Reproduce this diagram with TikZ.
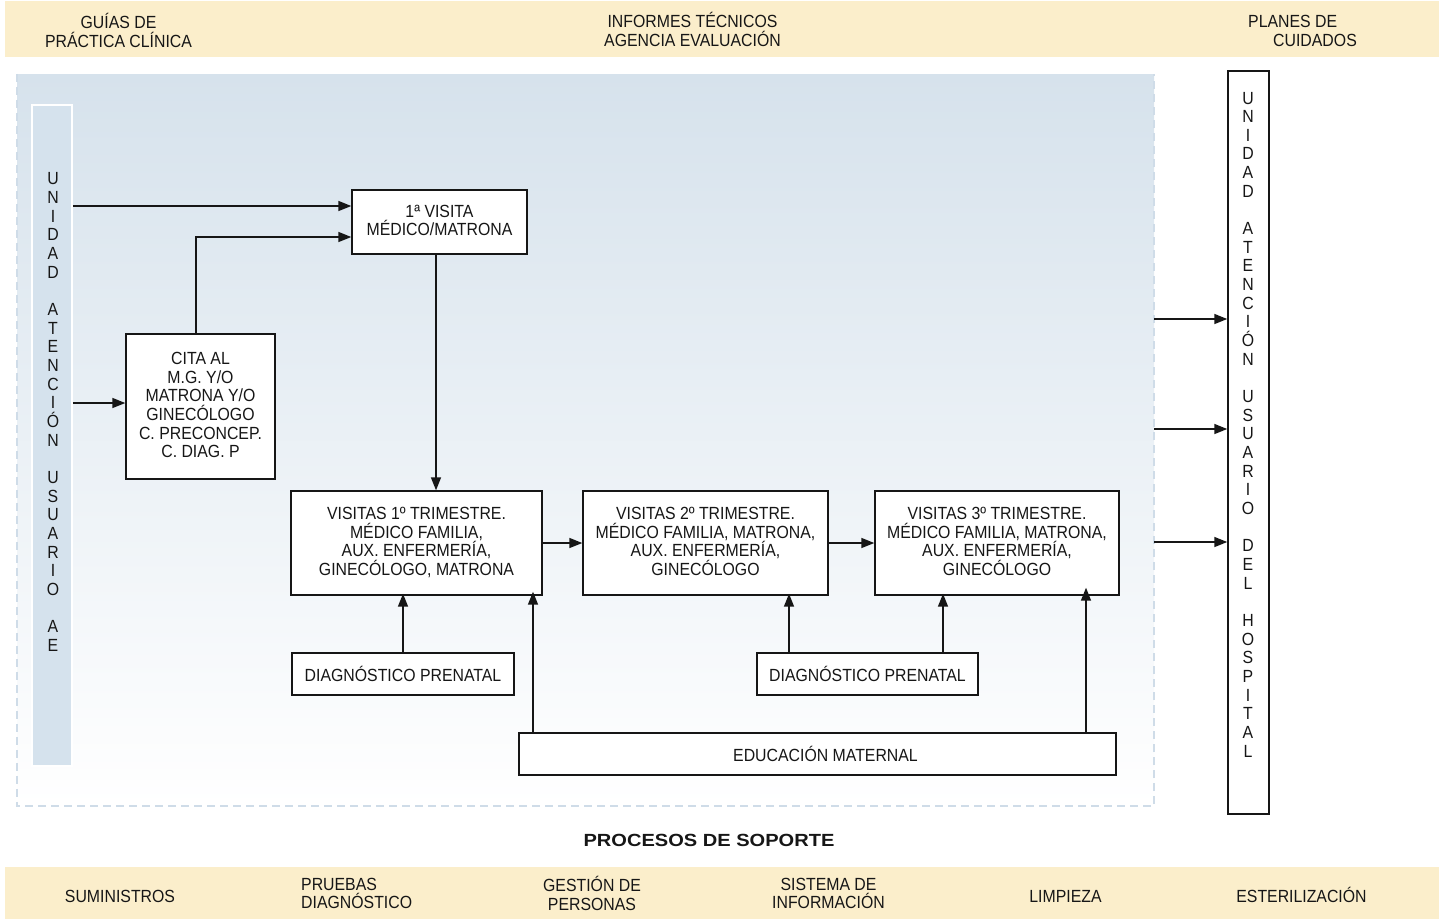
\documentclass[tikz,border=0pt]{standalone}
\usepackage{fontspec}
\setmainfont{Liberation Sans}[FakeStretch=0.9]
\newfontfamily\titlefont{Liberation Sans Bold}[FakeStretch=1.14]
\usetikzlibrary{arrows.meta}
\definecolor{cream}{HTML}{FBEECB}
\definecolor{bluetop}{HTML}{D6E2EC}
\definecolor{barblue}{HTML}{D5E2ED}
\definecolor{dashblue}{HTML}{CFDCE8}
\definecolor{ink}{HTML}{161616}
\tikzset{
  txt/.style={font=\fontsize{17.6}{18.66}\selectfont, text=ink, align=center, inner sep=0pt,
    execute at begin node=\rule{0pt}{18pt}, execute at end node=\rule[-3pt]{0pt}{3pt}},
  box/.style={txt, draw=ink, line width=1.4pt, fill=white},
  arr/.style={draw=ink, line width=1.5pt, -{Triangle[length=13pt,width=10pt]}},
  band/.style={fill=cream, inner sep=0pt},
}
\begin{document}
\begin{tikzpicture}[x=1pt,y=-1pt]
\useasboundingbox (0,0) rectangle (1439,919);
\fill[white] (0,0) rectangle (1439,919);
% bands
\node[band, minimum width=1434, minimum height=56] (topband) at (722,29) {};
\node[band, minimum width=1434, minimum height=52] (botband) at (722,893) {};
% main region
\node[top color=bluetop, bottom color=white,
  minimum width=1137, minimum height=732, inner sep=0pt] (main) at (585.5,440) {};
\draw[dashblue, line width=1.5pt, dash pattern=on 8pt off 5pt]
  (main.north west) -- (main.south west) -- (main.south east) -- (main.north east);
% side bars
\node[fill=barblue, draw=white, line width=1.5pt, minimum width=40, minimum height=661, inner sep=0pt] (lbar) at (52,435.5) {};
\node[fill=white, draw=ink, line width=1.5pt, minimum width=41, minimum height=743, inner sep=0pt] (rbar) at (1248.5,442.5) {};
\node[txt] (ltext) at (53,413.6) {U\\N\\I\\D\\A\\D\\~\\A\\T\\E\\N\\C\\I\\Ó\\N\\~\\U\\S\\U\\A\\R\\I\\O\\~\\A\\E};
\node[txt] (rtext) at (1248,426) {U\\N\\I\\D\\A\\D\\~\\A\\T\\E\\N\\C\\I\\Ó\\N\\~\\U\\S\\U\\A\\R\\I\\O\\~\\D\\E\\L\\~\\H\\O\\S\\P\\I\\T\\A\\L};
% top band texts
\node[txt] (guias) at (118.5,32) {GUÍAS DE\\PRÁCTICA CLÍNICA};
\node[txt] (informes) at (692.5,31) {INFORMES TÉCNICOS\\AGENCIA EVALUACIÓN};
\node[txt, align=left, anchor=west] (planes) at (1248,32.5) {PLANES DE\\\hspace*{25pt}CUIDADOS};
% boxes
\node[box, minimum width=175, minimum height=64] (v0) at (439.5,222) {1ª VISITA\\MÉDICO/MATRONA};
\node[box, minimum width=149, minimum height=145] (cita) at (200.5,406.5) {CITA AL\\M.G. Y/O\\MATRONA Y/O\\GINECÓLOGO\\C. PRECONCEP.\\C. DIAG. P};
\node[box, minimum width=251, minimum height=104] (v1) at (416.5,543) {VISITAS 1º TRIMESTRE.\\MÉDICO FAMILIA,\\AUX. ENFERMERÍA,\\GINECÓLOGO, MATRONA};
\node[box, minimum width=245, minimum height=104] (v2) at (705.5,543) {VISITAS 2º TRIMESTRE.\\MÉDICO FAMILIA, MATRONA,\\AUX. ENFERMERÍA,\\GINECÓLOGO};
\node[box, minimum width=244, minimum height=104] (v3) at (997,543) {VISITAS 3º TRIMESTRE.\\MÉDICO FAMILIA, MATRONA,\\AUX. ENFERMERÍA,\\GINECÓLOGO};
\node[box, minimum width=222, minimum height=42] (dp1) at (403,674) {DIAGNÓSTICO PRENATAL};
\node[box, minimum width=221, minimum height=42] (dp2) at (867.5,674) {DIAGNÓSTICO PRENATAL};
\node[box, minimum width=597, minimum height=42] (edu) at (817.5,754) {\hspace{16pt}EDUCACIÓN MATERNAL};
% arrows
\draw[arr] (lbar.east |- 0,206) -- (v0.west |- 0,206);
\draw[arr] (cita.north -| 196,0) |- (v0.west |- 0,237);
\draw[arr] (lbar.east |- 0,403) -- (cita.west |- 0,403);
\draw[arr] (v0.south -| 436,0) -- (v1.north -| 436,0);
\draw[arr] (v1.east) -- (v2.west);
\draw[arr] (v2.east) -- (v3.west);
\draw[arr, shorten >=-2pt] (dp1.north) -- (dp1.north |- v1.south);
\draw[arr, shorten >=-4pt] (edu.north -| 533,0) -- (v1.south -| 533,0);
\draw[arr, shorten >=-2pt] (dp2.north -| 789,0) -- (v2.south -| 789,0);
\draw[arr, shorten >=-2pt] (dp2.north -| 943,0) -- (v3.south -| 943,0);
\draw[arr, shorten >=-8pt] (edu.north -| 1086,0) -- (v3.south -| 1086,0);
\draw[arr] (main.east |- 0,319) -- (rbar.west |- 0,319);
\draw[arr] (main.east |- 0,429) -- (rbar.west |- 0,429);
\draw[arr] (main.east |- 0,542) -- (rbar.west |- 0,542);
% support
\node[txt, font={\titlefont\fontsize{17.6}{18.66}\selectfont}] (soporte) at (709,839) {PROCESOS DE SOPORTE};
\node[txt] (s1) at (120,895) {SUMINISTROS};
\node[txt, align=left, anchor=west] (s2) at (301,895) {PRUEBAS\\DIAGNÓSTICO};
\node[txt] (s3) at (592,895) {GESTIÓN DE\\PERSONAS};
\node[txt] (s4) at (828.5,895) {SISTEMA DE\\INFORMACIÓN};
\node[txt] (s5) at (1065.5,895) {LIMPIEZA};
\node[txt] (s6) at (1301.5,895) {ESTERILIZACIÓN};
\end{tikzpicture}
\end{document}
